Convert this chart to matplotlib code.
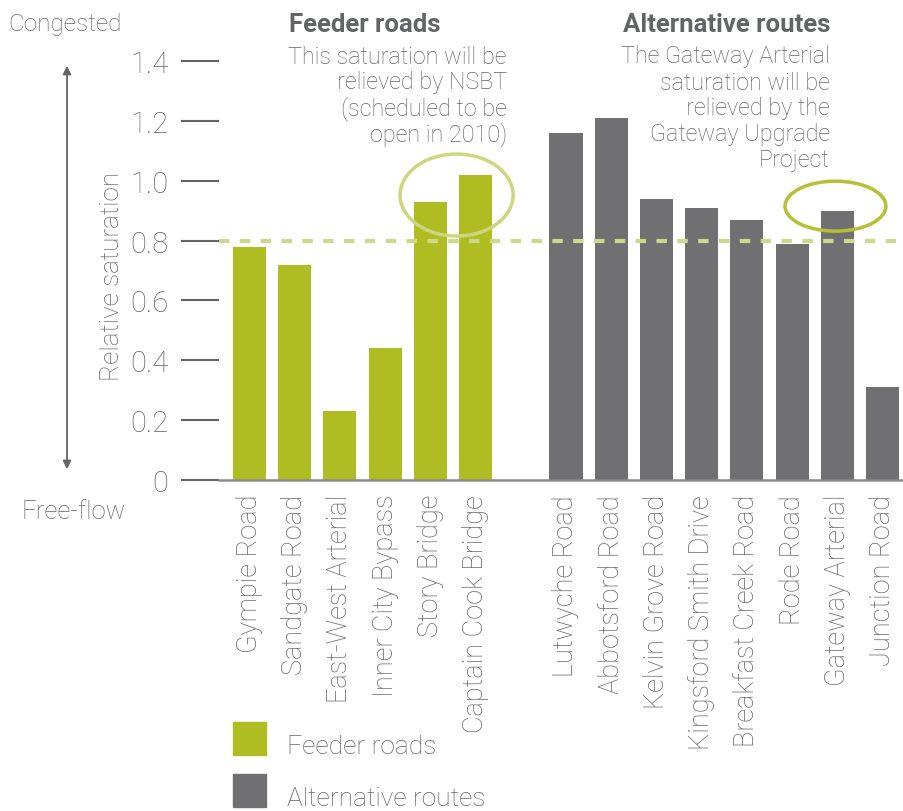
import matplotlib
matplotlib.use("Agg")
import matplotlib.pyplot as plt
from matplotlib.patches import Ellipse, Rectangle, FancyArrowPatch
from matplotlib import font_manager

# ---- data ----
feeder_roads = ["Gympie Road", "Sandgate Road", "East-West Arterial",
                "Inner City Bypass", "Story Bridge", "Captain Cook Bridge"]
feeder_values = [0.78, 0.72, 0.23, 0.44, 0.93, 1.02]

alt_routes = ["Lutwyche Road", "Abbotsford Road", "Kelvin Grove Road",
              "Kingsford Smith Drive", "Breakfast Creek Road", "Rode Road",
              "Gateway Arterial", "Junction Road"]
alt_values = [1.16, 1.21, 0.94, 0.91, 0.87, 0.79, 0.90, 0.31]

threshold = 0.8
y_ticks = [0, 0.2, 0.4, 0.6, 0.8, 1.0, 1.2, 1.4]
y_tick_labels = ["0", "0.2", "0.4", "0.6", "0.8", "1.0", "1.2", "1.4"]

GREEN = "#afbd22"
GREY = "#707072"
TEXT = "#636466"
DASH = "#cfd88a"

available = {f.name for f in font_manager.fontManager.ttflist}
base = [f for f in ["Roboto", "DejaVu Sans"] if f in available]
plt.rcParams["font.family"] = base
plt.rcParams["font.weight"] = "light"

W, H = 904, 812
fig = plt.figure(figsize=(W / 100, H / 100), dpi=100)


def fx(x):
    return x / W


def fy(y):
    return 1 - y / H


ax = fig.add_axes([fx(219), fy(481), fx(904) - fx(219), fy(62) - fy(481)])

feeder_pos = list(range(len(feeder_roads)))
alt_pos = [len(feeder_roads) + 1 + i for i in range(len(alt_routes))]

ax.bar(feeder_pos, feeder_values, width=0.73, color=GREEN, zorder=2)
ax.bar(alt_pos, alt_values, width=0.73, color=GREY, zorder=2)
ax.axhline(threshold, color=DASH, lw=3.0, linestyle=(0, (2.5, 2.5)), zorder=3)

ax.set_xlim(-0.675, alt_pos[-1] + 0.476)
ax.set_ylim(0, 1.4)

ax.set_yticks(y_ticks)
ax.set_yticklabels(y_tick_labels, fontsize=21, color=TEXT, fontweight="light")
ax.tick_params(axis="y", length=27.5, width=1.5, color=TEXT, pad=9)
ax.set_xticks(feeder_pos + alt_pos)
ax.set_xticklabels(feeder_roads + alt_routes, rotation=90, fontsize=19.5,
                   color=TEXT, va="top", ha="center", fontweight="light")
ax.tick_params(axis="x", length=0, pad=10)

for s in ["top", "right", "left"]:
    ax.spines[s].set_visible(False)
ax.spines["bottom"].set_color("#8a8a8c")
ax.spines["bottom"].set_linewidth(1.8)

# highlight ellipses
ax.add_patch(Ellipse((4.58, 0.952), 2.5, 0.274, fill=False,
                     edgecolor="#cdd67e", lw=2.5, zorder=4))
ax.add_patch(Ellipse((12.96, 0.915), 2.23, 0.167, fill=False,
                     edgecolor="#b5c035", lw=2.5, zorder=4))

# axis annotation
fig.text(fx(8), fy(25), "Congested", fontsize=17.5, color=TEXT, va="center", ha="left")
fig.text(fx(22), fy(512), "Free-flow", fontsize=18.5, color=TEXT, va="center", ha="left")
fig.text(fx(112), fy(276), "Relative saturation", fontsize=18.8, color=TEXT,
         rotation=90, va="center", ha="center")
fig.add_artist(FancyArrowPatch(
    (fx(67), fy(473)), (fx(67), fy(64)), transform=fig.transFigure,
    arrowstyle="<|-|>", mutation_scale=12, color=TEXT, lw=1.3))

# group headings and notes
fig.text(fx(289), fy(25), "Feeder roads", fontsize=18.5, fontweight="bold",
         color=TEXT, va="center", ha="left")
notes1 = ["This saturation will be", "relieved by NSBT",
          "(scheduled to be", "open in 2010)"]
for i, line in enumerate(notes1):
    fig.text(fx(507), fy(57 + 26 * i), line, fontsize=16.8, color=TEXT,
             va="center", ha="right")

fig.text(fx(623), fy(25), "Alternative routes", fontsize=18.5, fontweight="bold",
         color=TEXT, va="center", ha="left")
notes2 = ["The Gateway Arterial", "saturation will be", "relieved by the",
          "Gateway Upgrade", "Project"]
for i, line in enumerate(notes2):
    fig.text(fx(830), fy(57 + 26 * i), line, fontsize=16.8, color=TEXT,
             va="center", ha="right")

# legend
for ytop, col, label in [(723, GREEN, "Feeder roads"), (775, GREY, "Alternative routes")]:
    fig.add_artist(Rectangle((fx(233), fy(ytop + 33)), fx(33), 33 / H,
                             transform=fig.transFigure, color=col))
    fig.text(fx(287), fy(ytop + 24), label, fontsize=19, color=TEXT,
             va="center", ha="left")

fig.savefig("out.png", dpi=100)
